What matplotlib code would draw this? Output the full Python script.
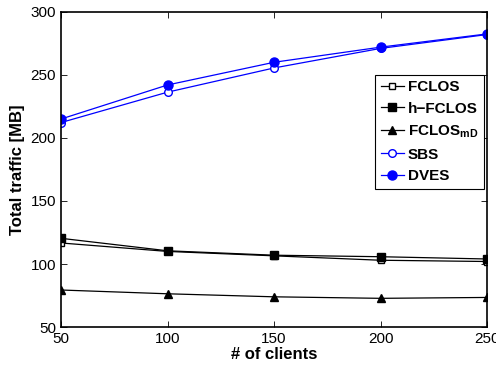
import matplotlib
matplotlib.use("Agg")
import matplotlib.pyplot as plt

clients = [50, 100, 150, 200, 250]
fclos = [116.7, 110.0, 106.5, 103.0, 102.0]
h_fclos = [120.4, 110.5, 107.0, 105.8, 104.0]
fclos_md = [79.4, 76.4, 74.0, 72.8, 73.5]
sbs = [212.2, 236.3, 255.5, 271.0, 282.0]
dves = [215.0, 242.0, 260.0, 272.0, 282.5]

plt.rcParams['font.family'] = ['Liberation Sans', 'DejaVu Sans']
plt.rcParams['mathtext.fontset'] = 'custom'
plt.rcParams['mathtext.bf'] = 'Liberation Sans:bold'

fig = plt.figure(figsize=(4.96, 3.70), dpi=100)
ax = fig.add_axes([0.123, 0.116, 0.859, 0.852])

ax.plot(clients, fclos, color='black', lw=0.9, marker='s', mfc='white', mec='black', ms=5, label='FCLOS')
ax.plot(clients, h_fclos, color='black', lw=0.9, marker='s', mfc='black', mec='black', ms=5.5, label='h\u2212FCLOS')
ax.plot(clients, fclos_md, color='black', lw=0.9, marker='^', mfc='black', mec='black', ms=5.5, label=r'FCLOS$_{\mathbf{mD}}$')
ax.plot(clients, sbs, color='blue', lw=0.9, marker='o', mfc='white', mec='blue', ms=5.5, label='SBS')
ax.plot(clients, dves, color='blue', lw=0.9, marker='o', mfc='blue', mec='blue', ms=6.5, label='DVES')

ax.set_xlim(50, 250)
ax.set_ylim(50, 300)
ax.set_xticks([50, 100, 150, 200, 250])
ax.set_yticks([50, 100, 150, 200, 250, 300])
ax.tick_params(direction='in', top=True, right=True, labelsize=11, length=4, width=0.6)
for s in ax.spines.values():
    s.set_linewidth(1.2)

ax.set_xlabel('# of clients', fontsize=12, fontweight='bold', labelpad=1)
ax.set_ylabel('Total traffic [MB]', fontsize=12, fontweight='bold', labelpad=4)

leg = ax.legend(loc='upper right', bbox_to_anchor=(1.0, 0.81), prop={'weight': 'bold', 'size': 11},
                frameon=True, fancybox=False, edgecolor='black', framealpha=1,
                handlelength=1.5, handletextpad=0.3, borderpad=0.35, labelspacing=0.5, borderaxespad=0.2)
leg.get_frame().set_linewidth(0.8)

fig.savefig('out.png', dpi=100)
